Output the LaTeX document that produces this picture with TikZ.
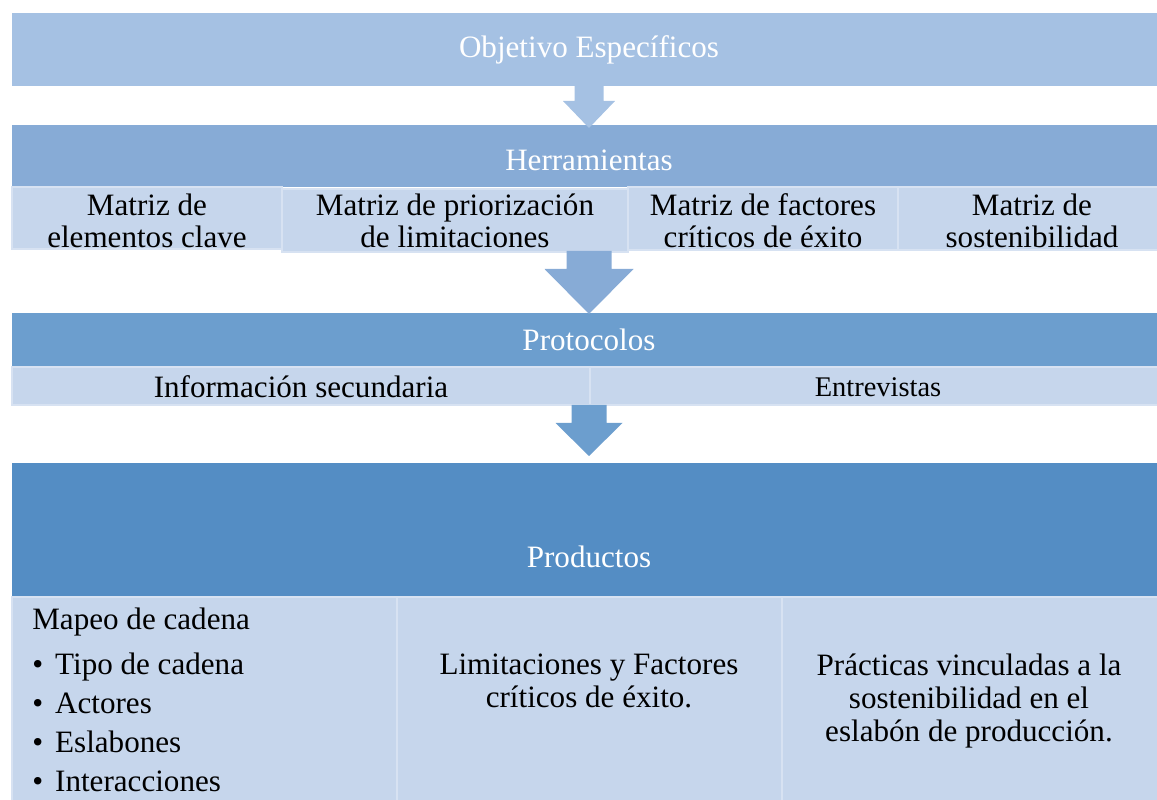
\documentclass[tikz,border=0pt]{standalone}
\usepackage{fontspec}
\setmainfont{Liberation Serif}
\usetikzlibrary{calc,positioning}
\definecolor{banda1}{HTML}{A5C1E3}
\definecolor{banda2}{HTML}{87ABD6}
\definecolor{banda3}{HTML}{6C9ECE}
\definecolor{banda4}{HTML}{548DC4}
\definecolor{celda}{HTML}{C6D6EC}

% block arrow: from, to, shaft half width, head half width, neck length, colour
\newcommand{\flecha}[6]{%
  \fill[#6] ($(#1)+(-#3,0)$) -- ($(#1)+(-#3,#5)$) -- ($(#1)+(-#4,#5)$) -- (#2)
    -- ($(#1)+(#4,#5)$) -- ($(#1)+(#3,#5)$) -- ($(#1)+(#3,0)$) -- cycle;}

\tikzset{
  titulo/.style={inner sep=0pt, text=white, font=\fontsize{17.7}{18.5}\selectfont},
  texto/.style={inner sep=0pt, text=black, align=center, font=\fontsize{17.7}{18.2}\selectfont},
  caja/.style={fill=celda, draw=white!30!celda, line width=0.6pt}
}

\begin{document}
\begin{tikzpicture}[x=0.02cm, y=-0.02cm]
  \useasboundingbox (0,0) rectangle (1157,800);
  % Objetivo
  \fill[banda1] (12,13) rectangle (1166,86);
  \node[titulo] (objetivo) at (589,50) {Objetivo Específicos};
  % Herramientas
  \fill[banda2] (12,125) rectangle (1166,187);
  \node[titulo] (herramientas) at (589,160) {Herramientas};
  \draw[caja] (12,187) rectangle (282,249);
  \draw[caja] (282,189) rectangle (628,252);
  \draw[caja] (628,187) rectangle (898,250);
  \draw[caja] (898,187) rectangle (1166,250);
  \node[texto] (m1) at (147,221) {Matriz de\\elementos clave};
  \node[texto] (m2) at (455,221) {Matriz de priorización\\de limitaciones};
  \node[texto] (m3) at (763,221) {Matriz de factores\\críticos de éxito};
  \node[texto] (m4) at (1032,221) {Matriz de\\sostenibilidad};
  % Protocolos
  \fill[banda3] (12,313) rectangle (1166,367);
  \node[titulo] (protocolos) at (589,340) {Protocolos};
  \draw[caja] (12,367) rectangle (590,405);
  \draw[caja] (590,367) rectangle (1166,405);
  \node[texto] (info) at (301,387) {Información secundaria};
  \node[texto, font=\fontsize{16.2}{17}\selectfont] (entrevistas) at (878,387) {Entrevistas};
  % Productos
  \fill[banda4] (12,463) rectangle (1166,597);
  \node[titulo] (productos) at (589,557) {Productos};
  \draw[caja] (12,597) rectangle (397,810);
  \draw[caja] (397,597) rectangle (782,810);
  \draw[caja] (782,597) rectangle (1166,810);
  \node[texto, align=left, anchor=north west, font=\fontsize{17.7}{22.1}\selectfont]
    (mapeo) at (32,608) {Mapeo de cadena\\[3.4pt]
      \makebox[13pt][l]{\textbullet}Tipo de cadena\\
      \makebox[13pt][l]{\textbullet}Actores\\
      \makebox[13pt][l]{\textbullet}Eslabones\\
      \makebox[13pt][l]{\textbullet}Interacciones};
  \node[texto, anchor=north, font=\fontsize{17.7}{18.7}\selectfont]
    (limitaciones) at (589,654) {Limitaciones y Factores\\críticos de éxito.};
  \node[texto, anchor=north, font=\fontsize{17.7}{18.7}\selectfont]
    (practicas) at (969,654) {Prácticas vinculadas a la\\sostenibilidad en el\\eslabón de producción.};
  % arrows
  \coordinate (a1) at (589,86);  \coordinate (b1) at (589,128);
  \coordinate (a2) at (589,251); \coordinate (b2) at (589,314);
  \coordinate (a3) at (589,405); \coordinate (b3) at (589,456);
  \flecha{a1}{b1}{14.5}{26}{15}{banda1}
  \flecha{a2}{b2}{22.5}{44.5}{18}{banda2}
  \flecha{a3}{b3}{17.5}{33.5}{18}{banda3}
\end{tikzpicture}
\end{document}
